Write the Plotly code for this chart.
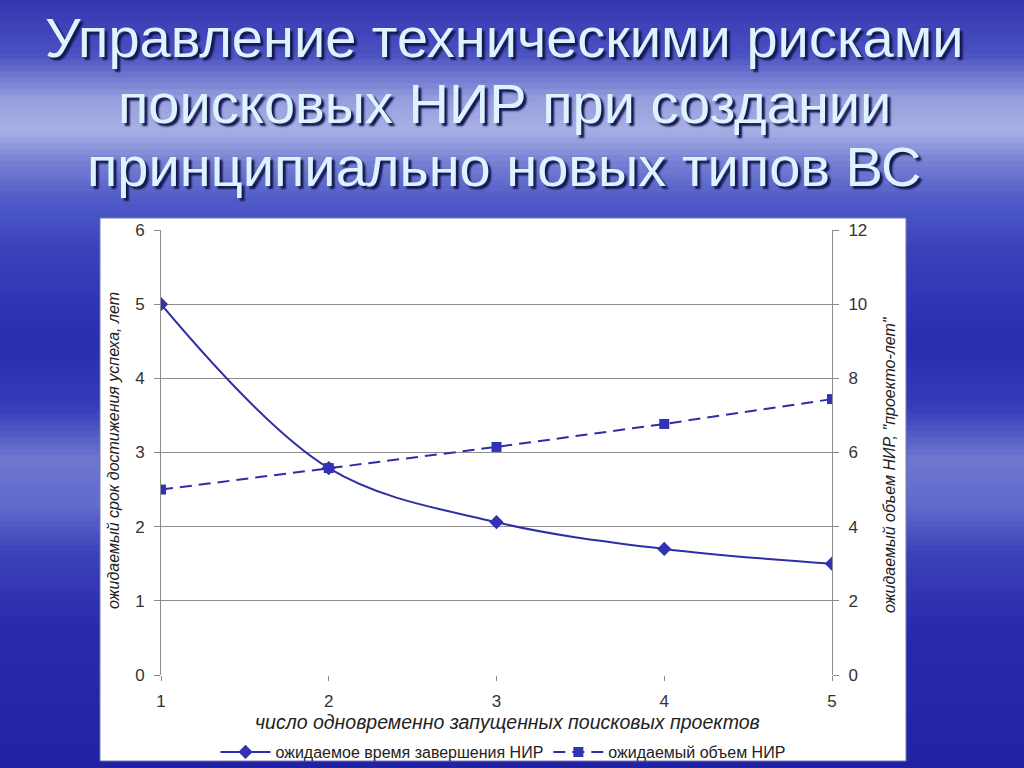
import plotly.graph_objects as go

# ---- data ----
x_projects = [1, 2, 3, 4, 5]
time_years = [5.0, 2.79, 2.06, 1.70, 1.50]
volume_py = [5.0, 5.58, 6.15, 6.77, 7.44]

series_names = ["ожидаемое время завершения НИР", "ожидаемый объем НИР"]
title_lines = ["Управление техническими рисками",
               "поисковых НИР при создании",
               "принципиально новых типов ВС"]
x_title = "число одновременно запущенных поисковых проектов"
y_title = "ожидаемый срок достижения успеха, лет"
y2_title = 'ожидаемый объем НИР, "проекто-лет"'
y_ticks = [0, 1, 2, 3, 4, 5, 6]
y2_ticks = [0, 2, 4, 6, 8, 10, 12]

W, H = 1024, 768
LINE = "#2E2EA6"
MARK = "#3232B4"

# background gradient stops (fraction from top, rgb)
bg_stops = [
    (0.00, (52, 54, 176)),
    (0.07, (72, 80, 192)),
    (0.13, (150, 158, 222)),
    (0.17, (170, 176, 228)),
    (0.21, (120, 130, 212)),
    (0.26, (80, 92, 200)),
    (0.33, (56, 64, 186)),
    (0.45, (40, 46, 176)),
    (0.53, (52, 60, 184)),
    (0.60, (110, 120, 208)),
    (0.66, (96, 106, 204)),
    (0.72, (60, 66, 184)),
    (0.82, (40, 42, 172)),
    (1.00, (34, 34, 164)),
]


def interp(t):
    for (t0, c0), (t1, c1) in zip(bg_stops[:-1], bg_stops[1:]):
        if t0 <= t <= t1:
            f = (t - t0) / (t1 - t0) if t1 > t0 else 0
            return "rgb(%d,%d,%d)" % tuple(round(a + (b - a) * f) for a, b in zip(c0, c1))
    return "rgb(%d,%d,%d)" % bg_stops[-1][1]


def fx(px):
    return px / W


def fy(py):
    return 1 - py / H


shapes = []
N = 128
for i in range(N):
    t = (i + 0.5) / N
    shapes.append(dict(type="rect", xref="paper", yref="paper",
                       x0=0, x1=1, y0=1 - (i + 1) / N - 0.001, y1=1 - i / N + 0.001,
                       fillcolor=interp(t), line=dict(width=0), layer="below"))

# white chart panel
shapes.append(dict(type="rect", xref="paper", yref="paper",
                   x0=fx(100), x1=fx(906), y0=fy(761), y1=fy(218),
                   fillcolor="white", line=dict(color="#7878A8", width=1), layer="below"))

fig = go.Figure()
fig.add_trace(go.Scatter(
    x=x_projects, y=time_years, name=series_names[0], mode="lines+markers",
    line=dict(color=LINE, width=2, shape="spline", smoothing=1.0),
    marker=dict(symbol="diamond", size=11, color=MARK), yaxis="y"))
fig.add_trace(go.Scatter(
    x=x_projects, y=volume_py, name=series_names[1], mode="lines+markers",
    line=dict(color=LINE, width=2, dash="12px,7px"),
    marker=dict(symbol="square", size=10, color=MARK), yaxis="y2"))

ax_font = dict(family="Liberation Sans, Arial, sans-serif", size=17, color="#333333")

annotations = []
line_y = [37, 103, 167]
for txt, yy in zip(title_lines, line_y):
    annotations.append(dict(
        text=txt, xref="paper", yref="paper", x=fx(504), y=fy(yy),
        xanchor="center", yanchor="middle", showarrow=False,
        font=dict(family="Liberation Sans, Arial, sans-serif",
                  size=56, color="#DDF3FF", shadow="3px 3px 2px #15174F")))

annotations.append(dict(text="<i>" + x_title + "</i>", xref="paper", yref="paper",
                        x=fx(507), y=fy(722), xanchor="center", yanchor="middle",
                        showarrow=False, font=dict(family="Liberation Sans, Arial", size=19.5, color="#222")))
annotations.append(dict(text="<i>" + y_title + "</i>", xref="paper", yref="paper",
                        x=fx(113), y=fy(451), xanchor="center", yanchor="middle",
                        textangle=-90, showarrow=False,
                        font=dict(family="Liberation Sans, Arial", size=16, color="#222")))
annotations.append(dict(text="<i>" + y2_title + "</i>", xref="paper", yref="paper",
                        x=fx(889), y=fy(465), xanchor="center", yanchor="middle",
                        textangle=-90, showarrow=False,
                        font=dict(family="Liberation Sans, Arial", size=16, color="#222")))

fig.update_layout(
    template="none",
    width=W, height=H, margin=dict(l=0, r=0, t=0, b=0, pad=0, autoexpand=False),
    paper_bgcolor="#2A2EB0", plot_bgcolor="rgba(0,0,0,0)",
    shapes=shapes, annotations=annotations,
    showlegend=True,
    legend=dict(orientation="h", x=fx(503), y=fy(752), xanchor="center", yanchor="middle",
                font=dict(family="Liberation Sans, Arial", size=16, color="#222"),
                bgcolor="rgba(0,0,0,0)", itemwidth=50),
    xaxis=dict(domain=[fx(161), fx(832)], range=[1, 5], tickvals=x_projects, showgrid=False,
               zeroline=False, showline=False, ticks="outside", ticklen=5, automargin=False,
               tickcolor="#888", tickfont=ax_font, ticklabelstandoff=6, fixedrange=True),
    yaxis=dict(domain=[fy(675), fy(230)], range=[0, 6], tickvals=y_ticks, showgrid=True,
               gridcolor="#8C8C8C", gridwidth=1, zeroline=False, showline=True, automargin=False,
               linecolor="#8C8C8C", linewidth=1, ticks="outside", ticklen=6,
               tickcolor="#8C8C8C", tickfont=ax_font, ticklabelstandoff=6, fixedrange=True),
    yaxis2=dict(overlaying="y", side="right", anchor="x", range=[0, 12],
                tickvals=y2_ticks, showgrid=False, zeroline=False, showline=True, automargin=False,
                linecolor="#8C8C8C", linewidth=1, ticks="outside", ticklen=6,
                tickcolor="#8C8C8C", tickfont=ax_font, ticklabelstandoff=6, fixedrange=True),
)

fig.write_html("out.html", config={"displayModeBar": False},
               post_script="document.body.style.margin='0';document.body.style.overflow='hidden';")
